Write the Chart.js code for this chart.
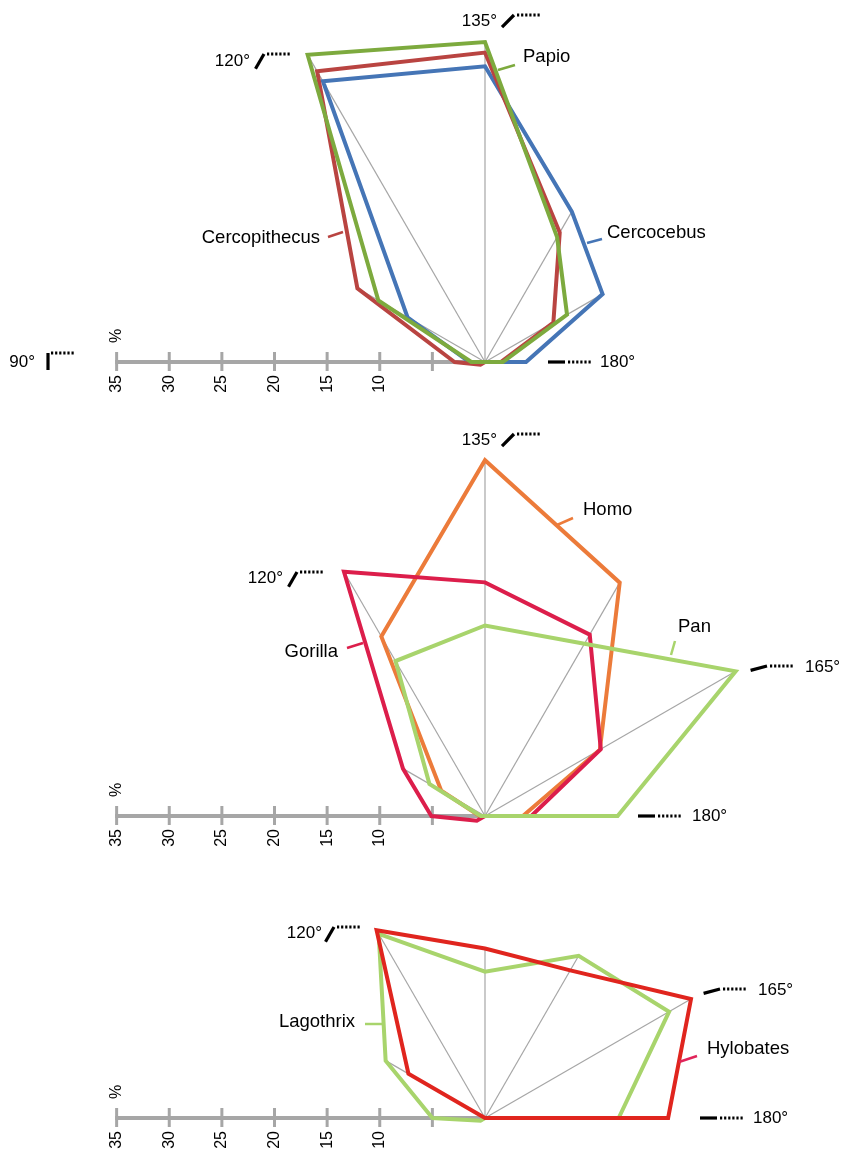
<!DOCTYPE html>
<html>
<head>
<meta charset="utf-8">
<script src="https://cdn.jsdelivr.net/npm/chart.js@4.4.1/dist/chart.umd.min.js"></script>
<style>
  html, body { margin: 0; padding: 0; width: 842px; height: 1150px; overflow: hidden; background: #fff; }
  canvas { position: absolute; left: 0; }
</style>
</head>
<body>
<canvas id="upper" width="906" height="842" style="top:-59px"></canvas>
<canvas id="middle" width="906" height="842" style="top:395px"></canvas>
<canvas id="lower" width="906" height="842" style="top:697px"></canvas>
<script>
// Joint angle of each spoke (clockwise from the 90° direction); the lower half is unused
const angleLabels = ['90°', '105°', '120°', '135°', '150°', '165°', '180°', '', '', '', '', '75°'];

// Share (%) of joints at each angle
const cercocebus    = [1.5, 8.5, 30.8, 28.1, 16.5, 12.9, 3.9, 0, 0, 0, 0, 0];
const cercopithecus = [2.9, 14.0, 31.9, 29.4, 14.2, 7.5, 1.5, 0, 0, 0, 0, 0.5];
const papio         = [1.3, 11.7, 33.7, 30.4, 13.7, 9.0, 1.7, 0, 0, 0, 0, 0];

const homo    = [0.5, 4.8, 19.7, 33.8, 25.6, 12.6, 3.6, 0, 0, 0, 0, 0];
const gorilla = [5.1, 9.0, 26.8, 22.2, 19.9, 12.7, 4.4, 0, 0, 0, 0, 0.9];
const pan     = [0.4, 6.1, 17.0, 18.1, 18.9, 27.5, 12.6, 0, 0, 0, 0, 0];

const hylobates = [0, 8.4, 20.6, 16.1, 16.2, 22.6, 17.4, 0, 0, 0, 0, 0];
const lagothrix = [5.0, 10.9, 20.2, 13.9, 17.8, 20.2, 12.7, 0, 0, 0, 0, 0.5];

// Percent axis drawn along the 90° spoke
const tickValues = [35, 30, 25, 20, 15, 10, 5];
const tickLabels = ['35', '30', '25', '20', '15', '10', ''];
const axisUnit = '%';

const FONT = '"Liberation Sans", Arial, Helvetica, sans-serif';
const GRAY = '#A6A6A6';

// Spokes, percent axis, angle markers and series names
const annotate = {
  id: 'annotate',
  beforeDatasetsDraw(chart) {
    const s = chart.scales.r;
    const ctx = chart.ctx;
    const cx = s.xCenter, cy = s.yCenter;
    ctx.save();
    // spokes reach the largest value found on each angle
    ctx.strokeStyle = GRAY;
    ctx.lineWidth = 1.2;
    for (let i = 1; i <= 6; i++) {
      const m = Math.max(...chart.data.datasets.map(d => d.data[i]));
      const p = s.getPointPositionForValue(i, m);
      ctx.beginPath();
      ctx.moveTo(cx, cy);
      ctx.lineTo(p.x, p.y);
      ctx.stroke();
    }
    // percent axis
    const far = s.getPointPositionForValue(0, tickValues[0]);
    ctx.lineWidth = 4;
    ctx.beginPath();
    ctx.moveTo(far.x - 1.5, far.y);
    ctx.lineTo(cx, cy);
    ctx.stroke();
    ctx.lineWidth = 3;
    ctx.fillStyle = '#000';
    ctx.font = '16px ' + FONT;
    tickValues.forEach((v, k) => {
      const p = s.getPointPositionForValue(0, v);
      ctx.beginPath();
      ctx.moveTo(p.x, p.y - 10);
      ctx.lineTo(p.x, p.y + 9);
      ctx.stroke();
      if (tickLabels[k]) {
        ctx.save();
        ctx.translate(p.x, p.y + 13);
        ctx.rotate(-Math.PI / 2);
        ctx.textAlign = 'right';
        ctx.textBaseline = 'middle';
        ctx.fillText(tickLabels[k], 0, 0);
        ctx.restore();
      }
    });
    ctx.save();
    ctx.translate(far.x, far.y - 26);
    ctx.rotate(-Math.PI / 2);
    ctx.textAlign = 'center';
    ctx.textBaseline = 'middle';
    ctx.fillText(axisUnit, 0, 0);
    ctx.restore();
    ctx.restore();
  },
  afterDraw(chart, args, opts) {
    const s = chart.scales.r;
    const ctx = chart.ctx;
    const cx = s.xCenter, cy = s.yCenter;
    ctx.save();
    ctx.fillStyle = '#000';
    ctx.textBaseline = 'middle';
    // angle markers: a solid stroke at the joint angle plus a dotted reference
    for (const m of opts.marks) {
      const px = cx + m.x, py = cy + m.y;
      const r = m.a * Math.PI / 180;
      ctx.strokeStyle = '#000';
      ctx.lineCap = 'butt';
      ctx.lineWidth = 3.2;
      ctx.beginPath();
      ctx.moveTo(px, py);
      ctx.lineTo(px + 17 * Math.cos(r), py + 17 * Math.sin(r));
      ctx.stroke();
      ctx.lineWidth = 2.8;
      ctx.setLineDash([2.2, 1.9]);
      ctx.beginPath();
      ctx.moveTo(px + 3, py);
      ctx.lineTo(px + 27, py);
      ctx.stroke();
      ctx.setLineDash([]);
      ctx.font = '17px ' + FONT;
      ctx.textAlign = m.align;
      ctx.fillText(m.a + '°', cx + m.tx, cy + m.ty);
    }
    // series names with short leader lines
    for (const n of opts.names) {
      const ds = chart.data.datasets[n.ds];
      ctx.strokeStyle = n.color || ds.borderColor;
      ctx.lineWidth = 2.5;
      ctx.beginPath();
      ctx.moveTo(cx + n.l[0], cy + n.l[1]);
      ctx.lineTo(cx + n.l[2], cy + n.l[3]);
      ctx.stroke();
      ctx.font = '18.5px ' + FONT;
      ctx.textAlign = n.align;
      ctx.fillText(ds.label, cx + n.tx, cy + n.ty);
    }
    ctx.restore();
  }
};

function halfRadar(id, datasets, marks, names) {
  return new Chart(document.getElementById(id), {
    type: 'radar',
    data: {
      labels: angleLabels,
      datasets: datasets.map(d => Object.assign({
        borderWidth: 4,
        pointRadius: 0,
        pointHoverRadius: 0,
        fill: false,
        tension: 0,
        backgroundColor: 'transparent',
        borderJoinStyle: 'miter'
      }, d))
    },
    options: {
      responsive: false,
      animation: false,
      events: [],
      layout: { padding: { left: 64 } },
      plugins: {
        legend: { display: false },
        tooltip: { enabled: false },
        annotate: { marks, names }
      },
      scales: {
        r: {
          min: 0,
          max: 40,
          startAngle: 270,
          ticks: { display: false },
          grid: { display: false },
          angleLines: { display: false },
          pointLabels: { display: false }
        }
      }
    },
    plugins: [annotate]
  });
}

halfRadar('upper', [
  { label: 'Cercocebus', data: cercocebus, borderColor: '#4575B6', order: 2 },
  { label: 'Cercopithecus', data: cercopithecus, borderColor: '#B94441', order: 1 },
  { label: 'Papio', data: papio, borderColor: '#7DAA3E', order: 0 }
], [
  { a: 90,  x: -437, y: -9,   tx: -450, ty: 0,    align: 'right' },
  { a: 120, x: -221, y: -308, tx: -235, ty: -301, align: 'right' },
  { a: 135, x: 29,   y: -347, tx: 12,   ty: -341, align: 'right' },
  { a: 180, x: 80,   y: 0,    tx: 115,  ty: 0,    align: 'left' }
], [
  { ds: 2, l: [13, -292, 30, -297], tx: 38, ty: -305, align: 'left' },
  { ds: 0, l: [102, -119, 117, -123], tx: 122, ty: -129, align: 'left' },
  { ds: 1, l: [-142, -130, -157, -125], tx: -165, ty: -124, align: 'right' }
]);

halfRadar('middle', [
  { label: 'Homo', data: homo, borderColor: '#EC7B3A', order: 2 },
  { label: 'Gorilla', data: gorilla, borderColor: '#DC1E4B', order: 1 },
  { label: 'Pan', data: pan, borderColor: '#A8D46C', order: 0 }
], [
  { a: 120, x: -188, y: -244, tx: -202, ty: -238, align: 'right' },
  { a: 135, x: 29,   y: -382, tx: 12,   ty: -376, align: 'right' },
  { a: 165, x: 282,  y: -150, tx: 320,  ty: -149, align: 'left' },
  { a: 180, x: 170,  y: 0,    tx: 207,  ty: 0,    align: 'left' }
], [
  { ds: 0, l: [72, -291, 88, -298], tx: 98, ty: -306, align: 'left' },
  { ds: 2, l: [186, -161, 190, -175], tx: 193, ty: -189, align: 'left' },
  { ds: 1, l: [-122, -173, -138, -168], tx: -147, ty: -164, align: 'right' }
]);

halfRadar('lower', [
  { label: 'Hylobates', data: hylobates, borderColor: '#E0251E', order: 0 },
  { label: 'Lagothrix', data: lagothrix, borderColor: '#A8D46C', order: 1 }
], [
  { a: 120, x: -151, y: -191, tx: -163, ty: -185, align: 'right' },
  { a: 165, x: 235,  y: -129, tx: 273,  ty: -128, align: 'left' },
  { a: 180, x: 232,  y: 0,    tx: 268,  ty: 0,    align: 'left' }
], [
  { ds: 1, l: [-103, -94, -120, -94], tx: -130, ty: -96, align: 'right' },
  { ds: 0, l: [194, -56, 212, -62], tx: 222, ty: -69, align: 'left', color: '#E0245A' }
]);
</script>
</body>
</html>
